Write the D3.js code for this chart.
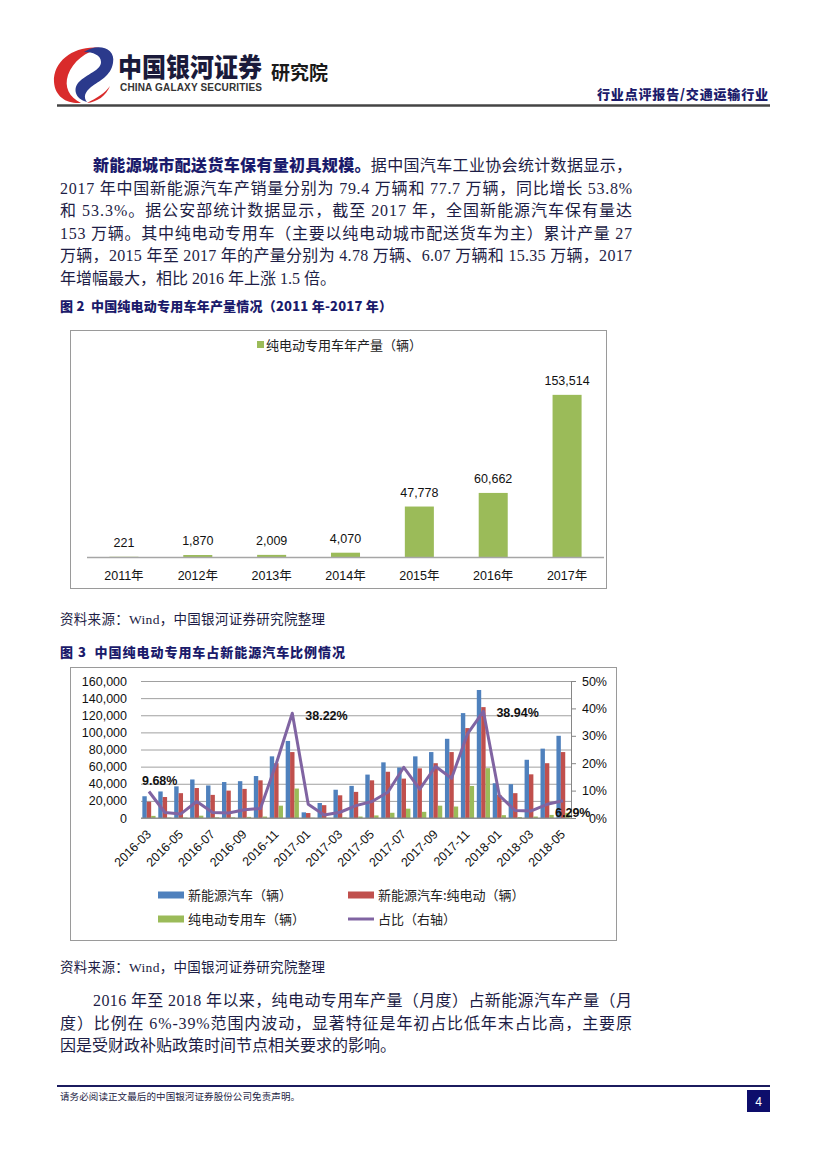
<!DOCTYPE html>
<html><head><meta charset="utf-8">
<script src="https://cdn.jsdelivr.net/npm/d3@7"></script>
<style>body{margin:0;background:#fff}svg{display:block}text{white-space:pre}</style>
</head><body>
<svg id="page" width="827" height="1169"></svg>
<script>
// ---------------- DATA ----------------
const years = ["2011年","2012年","2013年","2014年","2015年","2016年","2017年"];
const annualOutput = [221,1870,2009,4070,47778,60662,153514];

const months = ["2016-03","2016-04","2016-05","2016-06","2016-07","2016-08","2016-09","2016-10","2016-11","2016-12",
  "2017-01","2017-02","2017-03","2017-04","2017-05","2017-06","2017-07","2017-08","2017-09","2017-10","2017-11","2017-12",
  "2018-01","2018-02","2018-03","2018-04","2018-05"];
const nevTotal   = [25400,31000,37000,45000,38000,42000,43000,49000,72000,90000,6600,17500,33000,37500,50700,65000,59000,72000,77000,92500,122500,149500,40600,39500,68000,81000,96000];
const nevBEV     = [19000,24500,29000,35000,27000,32000,34000,44000,64000,77000,5800,15000,26500,30500,44000,54000,46000,58000,64000,77000,105000,129500,27000,29000,51000,64000,77000];
const bevSpecial = [2460,600,550,2700,800,750,1300,1700,14400,34400,330,180,700,1700,3000,6100,10900,7200,14400,13400,37400,58200,3300,1100,1700,3600,6000];
const shareRatio = [9.68,2.0,1.5,6.0,2.0,1.8,3.0,3.5,20.0,38.22,5.0,1.1,2.1,4.5,6.0,9.4,18.5,10.5,18.8,14.5,30.7,38.94,8.2,2.7,2.6,5.0,6.29];
const leftTicks  = [0,20000,40000,60000,80000,100000,120000,140000,160000];
const rightTicks = [0,10,20,30,40,50];
const labelledPoints = [0,9,21,26];

const seriesNames = ["新能源汽车（辆）","新能源汽车:纯电动（辆）","纯电动专用车（辆）","占比（右轴）"];
const seriesColors = ["#4F81BD","#C0504D","#9BBB59","#8064A2"];

const para1 = [
  [{t:"新能源城市配送货车保有量初具规模。",b:true},{t:"据中国汽车工业协会统计数据显示，"}],
  [{t:"2017 年中国新能源汽车产销量分别为 79.4 万辆和 77.7 万辆，同比增长 53.8%"}],
  [{t:"和 53.3%。据公安部统计数据显示，截至 2017 年，全国新能源汽车保有量达"}],
  [{t:"153 万辆。其中纯电动专用车（主要以纯电动城市配送货车为主）累计产量 27"}],
  [{t:"万辆，2015 年至 2017 年的产量分别为 4.78 万辆、6.07 万辆和 15.35 万辆，2017"}],
  [{t:"年增幅最大，相比 2016 年上涨 1.5 倍。"}]
];
const para2 = [
  [{t:"2016 年至 2018 年以来，纯电动专用车产量（月度）占新能源汽车产量（月"}],
  [{t:"度）比例在 6%-39%范围内波动，显著特征是年初占比低年末占比高，主要原"}],
  [{t:"因是受财政补贴政策时间节点相关要求的影响。"}]
];

// ---------------- PAGE ----------------
const svg = d3.select("#page");
const NAVY = "#1b1b6b";
const BODY = "#1d1d45";
const serif = "'Liberation Serif','Noto Sans CJK SC',serif";
const cjk = "'Noto Sans CJK SC',sans-serif";
const sans = "'Liberation Sans','Noto Sans CJK SC',sans-serif";

// logo
const logo = svg.append("g");
logo.append("path").attr("fill","#d92b2b")
  .attr("d","M100,48 C76,45 53,60 54,82 C55,97 67,104 81,103 C69,97 64,87 68,75 C73,61 86,52 100,48 Z");
logo.append("path").attr("fill","#2b3a8c")
  .attr("d","M84,52 C97,43 116,47 113,63 C111,76 99,81 91,87 C85,92 83,97 87,102 C75,99 72,88 80,81 C89,73 101,70 101,62 C101,55 93,52 84,52 Z");
logo.append("path").attr("fill","#d92b2b")
  .attr("d","M87,103 C97,102 106,96 110,86 C105,93 97,98 87,103 Z");
svg.append("text").attr("x",118).attr("y",77).attr("font-family",cjk).attr("font-weight",900)
  .attr("font-size",26).attr("fill","#1a1a3a").attr("textLength",144).attr("lengthAdjust","spacingAndGlyphs").text("中国银河证券");
svg.append("text").attr("x",120).attr("y",91).attr("font-family","'Liberation Sans',sans-serif").attr("font-weight",700)
  .attr("font-size",10).attr("fill","#333").attr("textLength",142).text("CHINA GALAXY SECURITIES");
svg.append("text").attr("x",271).attr("y",80).attr("font-family",cjk).attr("font-weight",700)
  .attr("font-size",19).attr("fill","#1a1a1a").text("研究院");
svg.append("text").attr("x",597).attr("y",99).attr("font-family",cjk).attr("font-weight",900)
  .attr("font-size",13).attr("fill",NAVY).attr("textLength",171).attr("lengthAdjust","spacing").text("行业点评报告/交通运输行业");
svg.append("line").attr("x1",57).attr("x2",770).attr("y1",105.5).attr("y2",105.5).attr("stroke","#444").attr("stroke-width",2.5);

// paragraphs
const L = 60, R = 632;
function paragraph(lines, y0, lh){
  lines.forEach((ln,i)=>{
    const x = i===0 ? 93 : L;
    const t = svg.append("text").attr("x",x).attr("y",y0+i*lh).attr("font-family",serif)
      .attr("font-size",16).attr("fill",BODY);
    if(i < lines.length-1) t.attr("textLength",R-x).attr("lengthAdjust","spacing");
    ln.forEach(seg=>{
      t.append("tspan").attr("font-weight",seg.b?900:400).attr("fill",seg.b?NAVY:BODY)
        .attr("font-family",seg.b?cjk:serif).text(seg.t);
    });
  });
}
paragraph(para1, 171, 22.6);
paragraph(para2, 1006, 22.6);

function caption(txt, y, w){
  svg.append("text").attr("x",L).attr("y",y).attr("font-family",cjk).attr("font-weight",900)
    .attr("font-size",13).attr("fill",NAVY).attr("textLength",w).attr("lengthAdjust","spacing").text(txt);
}
caption("图 2  中国纯电动专用车年产量情况（2011 年-2017 年）", 311, 332);
caption("图 3  中国纯电动专用车占新能源汽车比例情况", 657, 285);
function source(y){
  svg.append("text").attr("x",L).attr("y",y).attr("font-family",serif).attr("font-size",13.5)
    .attr("fill",BODY).attr("textLength",265).attr("lengthAdjust","spacing").text("资料来源：Wind，中国银河证券研究院整理");
}
source(624);
source(972);

// footer
svg.append("line").attr("x1",57).attr("x2",770).attr("y1",1086).attr("y2",1086).attr("stroke","#1b1b5e").attr("stroke-width",2);
svg.append("text").attr("x",60).attr("y",1100).attr("font-family",serif).attr("font-size",9.5).attr("fill",BODY)
  .attr("textLength",240).attr("lengthAdjust","spacing").text("请务必阅读正文最后的中国银河证券股份公司免责声明。");
svg.append("rect").attr("x",747).attr("y",1090).attr("width",23).attr("height",22).attr("fill","#0d0d6b");
svg.append("text").attr("x",758.5).attr("y",1105.5).attr("text-anchor","middle").attr("font-family",sans)
  .attr("font-size",12).attr("fill","#fff").text("4");

// ---------------- CHART 2 ----------------
const c2 = svg.append("g");
c2.append("rect").attr("x",70.5).attr("y",330.5).attr("width",536).attr("height",258).attr("fill","#fff").attr("stroke","#9a9a9a");
const x2 = d3.scaleBand().domain(years).range([87,604]).paddingInner(0.607).paddingOuter(0.3035);
const y2 = d3.scaleLinear().domain([0,160000]).range([557,388]);
c2.selectAll("rect.bar").data(annualOutput).join("rect").attr("class","bar")
  .attr("x",(d,i)=>x2(years[i])).attr("width",x2.bandwidth())
  .attr("y",d=>y2(d)).attr("height",d=>y2(0)-y2(d)).attr("fill","#9BBB59");
c2.append("line").attr("x1",87).attr("x2",604).attr("y1",y2(0)+0.5).attr("y2",y2(0)+0.5).attr("stroke","#a6a6a6").attr("stroke-width",1.3);
c2.selectAll("text.val").data(annualOutput).join("text").attr("class","val")
  .attr("x",(d,i)=>x2(years[i])+x2.bandwidth()/2).attr("y",d=>y2(d)-10)
  .attr("text-anchor","middle").attr("font-family",sans).attr("font-size",12.5).attr("fill","#111")
  .text(d=>d3.format(",")(d));
const ax2 = d3.axisBottom(x2).tickSize(0).tickPadding(0);
const gx2 = c2.append("g").attr("transform",`translate(0,${y2(0)})`).call(ax2);
gx2.select(".domain").remove();
gx2.selectAll("text").attr("dy",0).attr("y",23).attr("font-family",sans).attr("font-size",12.5).attr("fill","#111");
c2.append("rect").attr("x",257).attr("y",341).attr("width",7).attr("height",7).attr("fill","#9BBB59");
c2.append("text").attr("x",266).attr("y",350).attr("font-family",cjk).attr("font-size",13).attr("fill","#222").text("纯电动专用车年产量（辆）");

// ---------------- CHART 3 ----------------
const c3 = svg.append("g");
c3.append("rect").attr("x",70.5).attr("y",667.5).attr("width",546).attr("height",273).attr("fill","#fff").attr("stroke","#9a9a9a");
const px0 = 141, px1 = 571;
const x3 = d3.scaleBand().domain(months).range([px0,px1]).paddingInner(0.17).paddingOuter(0.085);
const xs = d3.scaleBand().domain([0,1,2]).range([0,x3.bandwidth()]);
const yL = d3.scaleLinear().domain([0,160000]).range([818,681]);
const yR = d3.scaleLinear().domain([0,50]).range([818,681]);

const gyL = c3.append("g").attr("transform",`translate(${px0},0)`)
  .call(d3.axisLeft(yL).tickValues(leftTicks).tickFormat(d3.format(",")).tickSize(-(px1-px0)).tickPadding(14));
gyL.select(".domain").remove();
gyL.selectAll("line").attr("stroke","#a0a0a0");
gyL.selectAll("text").attr("font-family",sans).attr("font-size",12.5).attr("fill","#111");

const gyR = c3.append("g").attr("transform",`translate(${px1},0)`)
  .call(d3.axisRight(yR).tickValues(rightTicks).tickFormat(d=>d+"%").tickSize(5).tickPadding(0).tickSizeOuter(0));
gyR.select(".domain").attr("stroke","#868686");
gyR.selectAll("line").attr("stroke","#868686");
gyR.selectAll("text").attr("x",36).attr("text-anchor","end").attr("font-family",sans).attr("font-size",12.5).attr("fill","#111");

const bars = [nevTotal, nevBEV, bevSpecial];
bars.forEach((arr,s)=>{
  c3.append("g").selectAll("rect").data(arr).join("rect")
    .attr("x",(d,i)=>x3(months[i])+xs(s)).attr("width",xs.bandwidth())
    .attr("y",d=>yL(d)).attr("height",d=>yL(0)-yL(d)).attr("fill",seriesColors[s]);
});
c3.append("line").attr("x1",px0).attr("x2",px1).attr("y1",818).attr("y2",818).attr("stroke","#868686");

const line = d3.line().x((d,i)=>x3(months[i])+x3.bandwidth()/2).y(d=>yR(d));
c3.append("path").datum(shareRatio).attr("d",line).attr("fill","none").attr("stroke","#8064A2")
  .attr("stroke-width",3).attr("stroke-linejoin","round");

const labelOffsets = {0:[-7,-6,"start"],9:[13,7,"start"],21:[13,6,"start"],26:[-8,16,"start"]};
labelledPoints.forEach(i=>{
  const o = labelOffsets[i];
  c3.append("text").attr("x",x3(months[i])+x3.bandwidth()/2+o[0]).attr("y",yR(shareRatio[i])+o[1])
    .attr("text-anchor",o[2]).attr("font-family",sans).attr("font-weight",700).attr("font-size",12.5).attr("fill","#111")
    .text(shareRatio[i].toFixed(2)+"%");
});

const xTickVals = months.filter((m,i)=>i%2===0);
const gx3 = c3.append("g").attr("transform","translate(0,818)")
  .call(d3.axisBottom(x3).tickValues(xTickVals).tickSize(0).tickPadding(0));
gx3.select(".domain").remove();
gx3.selectAll("text").attr("text-anchor","end").attr("dy",0).attr("y",0)
  .attr("transform","translate(3,17) rotate(-45)").attr("font-family",sans).attr("font-size",12.5).attr("fill","#111");

// legend
const legPos = [[158,895],[348,895],[158,919],[348,919]];
seriesNames.forEach((n,s)=>{
  const [lx,ly] = legPos[s];
  if(s<3) c3.append("rect").attr("x",lx).attr("y",ly-3.5).attr("width",26).attr("height",7).attr("fill",seriesColors[s]);
  else c3.append("line").attr("x1",lx).attr("x2",lx+26).attr("y1",ly).attr("y2",ly).attr("stroke",seriesColors[s]).attr("stroke-width",3);
  c3.append("text").attr("x",lx+30).attr("y",ly+5).attr("font-family",cjk).attr("font-size",13).attr("fill","#222").text(n);
});
</script>
</body></html>
